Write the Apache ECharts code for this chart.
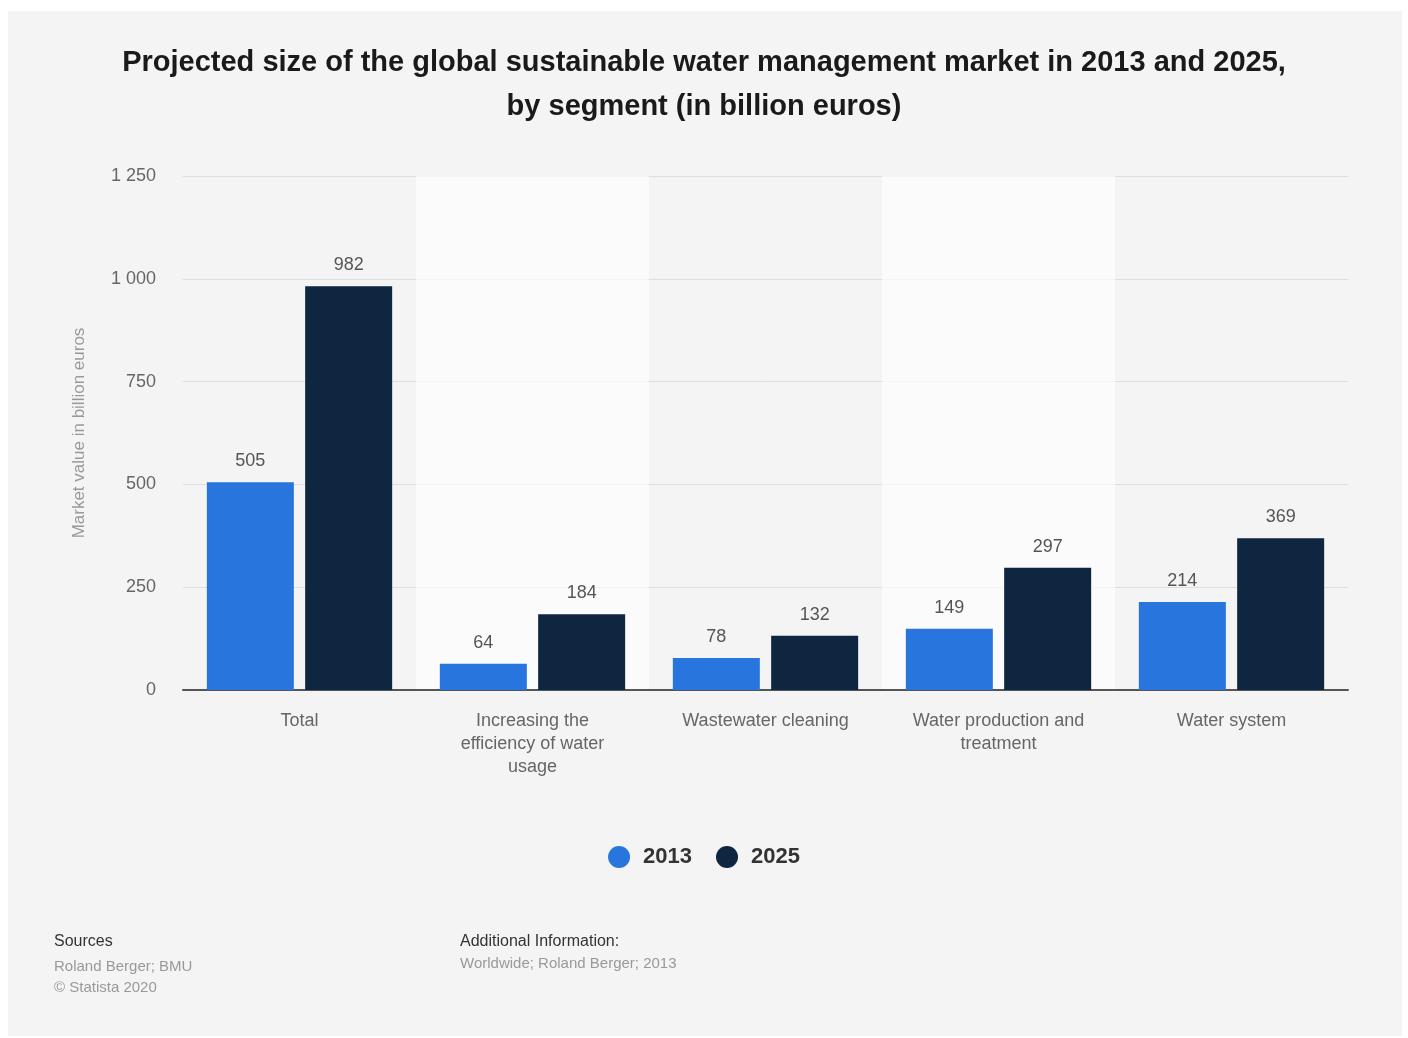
<!DOCTYPE html>
<html>
<head>
<meta charset="utf-8">
<script src="https://cdn.jsdelivr.net/npm/echarts@6/dist/echarts.min.js"></script>
<style>
  html, body { margin: 0; padding: 0; background: #fff; }
  #main { width: 1408px; height: 1038px; }
</style>
</head>
<body>
<div id="main"></div>
<script>
var categories = [
  'Total',
  'Increasing the\nefficiency of water\nusage',
  'Wastewater cleaning',
  'Water production and\ntreatment',
  'Water system'
];
var values2013 = [505, 64, 78, 149, 214];
var values2025 = [982, 184, 132, 297, 369];
var yTicks = [0, 250, 500, 750, 1000, 1250];

var chartDom = document.getElementById('main');
var myChart = echarts.init(chartDom);
var font = 'Liberation Sans, Arial, Helvetica, sans-serif';

function fmt(v) {
  return String(v).replace(/\B(?=(\d{3})+(?!\d))/g, ' ');
}

var option = {
  animation: false,
  textStyle: { fontFamily: font },
  graphic: [
    {
      type: 'rect',
      z: -10,
      silent: true,
      shape: { x: 8, y: 11, width: 1394, height: 1025 },
      style: { fill: '#f4f4f4' }
    },
    {
      type: 'text',
      left: 54,
      top: 934,
      style: { text: 'Sources', font: '16px ' + font, fill: '#333' }
    },
    {
      type: 'text',
      left: 54,
      top: 956,
      style: {
        text: 'Roland Berger; BMU\n© Statista 2020',
        font: '15px ' + font,
        fill: '#999',
        lineHeight: 21
      }
    },
    {
      type: 'text',
      left: 460,
      top: 934,
      style: { text: 'Additional Information:', font: '16px ' + font, fill: '#333' }
    },
    {
      type: 'text',
      left: 460,
      top: 956,
      style: { text: 'Worldwide; Roland Berger; 2013', font: '15px ' + font, fill: '#999' }
    }
  ],
  title: {
    text: 'Projected size of the global sustainable water management market in 2013 and 2025,\nby segment (in billion euros)',
    left: 'center',
    top: 36,
    textStyle: {
      fontSize: 29,
      fontWeight: 'bold',
      color: '#1a1a1a',
      lineHeight: 44,
      fontFamily: font
    }
  },
  legend: {
    bottom: 165,
    left: 'center',
    icon: 'circle',
    itemWidth: 22,
    itemHeight: 22,
    itemGap: 24,
    textStyle: { fontSize: 22, fontWeight: 'bold', color: '#333', fontFamily: font, padding: [0, 0, 0, 8] },
    data: ['2013', '2025']
  },
  grid: {
    left: 183,
    right: 60,
    top: 176,
    bottom: 348
  },
  xAxis: {
    type: 'category',
    data: categories,
    axisTick: { show: false },
    axisLine: { lineStyle: { color: '#555', width: 2 } },
    axisLabel: {
      color: '#666',
      fontSize: 18,
      lineHeight: 23,
      margin: 20,
      interval: 0
    },
    splitArea: {
      show: true,
      areaStyle: { color: ['rgba(255,255,255,0)', 'rgba(255,255,255,0.65)'] }
    }
  },
  yAxis: {
    type: 'value',
    min: 0,
    max: 1250,
    interval: 250,
    name: 'Market value in billion euros',
    nameLocation: 'middle',
    nameGap: 95,
    nameTextStyle: { color: '#999', fontSize: 17 },
    axisLine: { show: false },
    axisTick: { show: false },
    axisLabel: {
      color: '#666',
      fontSize: 18,
      margin: 27,
      formatter: function (v) { return yTicks.indexOf(v) >= 0 ? fmt(v) : ''; }
    },
    splitLine: { lineStyle: { color: '#dedede', width: 1 } }
  },
  series: [
    {
      name: '2013',
      type: 'bar',
      data: values2013,
      barWidth: 87,
      barGap: '13%',
      itemStyle: { color: '#2876dd' },
      label: { show: true, position: 'top', distance: 12, color: '#555', fontSize: 18 }
    },
    {
      name: '2025',
      type: 'bar',
      data: values2025,
      barWidth: 87,
      itemStyle: { color: '#0f2640' },
      label: { show: true, position: 'top', distance: 12, color: '#555', fontSize: 18 }
    }
  ]
};

option && myChart.setOption(option);
</script>
</body>
</html>
